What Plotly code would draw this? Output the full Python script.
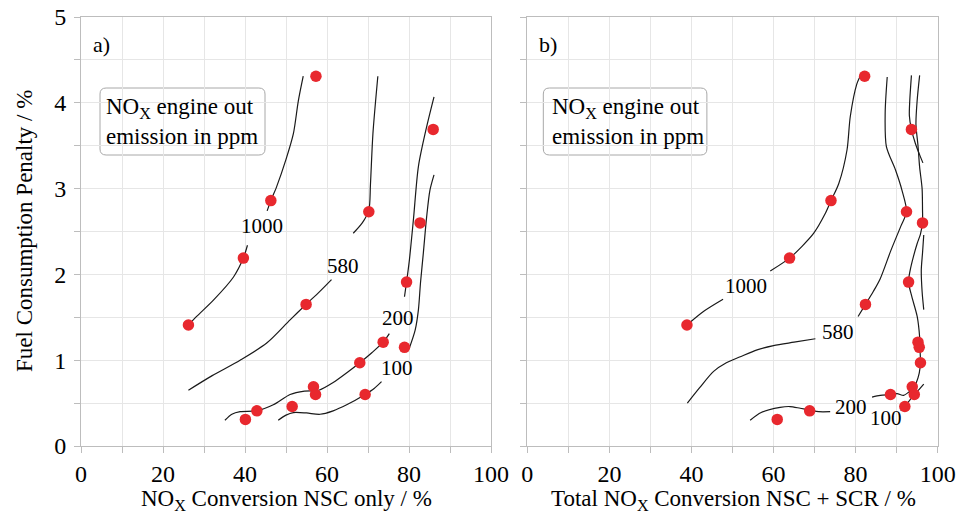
import plotly.graph_objects as go

# ---------------- data ----------------
penalty = [4.31, 3.69, 2.86, 2.73, 2.60, 2.19, 1.91, 1.65, 1.41, 1.21, 1.15, 0.97, 0.69, 0.60, 0.60, 0.46, 0.41, 0.31]
nsc_only = [57.3, 85.9, 46.3, 70.2, 82.7, 39.6, 79.4, 54.9, 26.2, 73.7, 78.9, 68.0, 56.7, 57.2, 69.3, 51.5, 42.9, 40.1]
nsc_scr = [82.2, 93.6, 74.0, 92.4, 96.3, 63.9, 92.9, 82.4, 38.9, 95.2, 95.5, 95.8, 93.8, 94.3, 88.5, 92.0, 68.8, 60.9]

# contour lines (NOx engine out ppm), panel a
a_1000_lo = [(26.2, 1.41), (28.2, 1.51), (32.3, 1.70), (37.2, 1.97), (39.6, 2.19), (40.6, 2.34)]
a_1000_hi = [(45.4, 2.74), (46.3, 2.86), (47.7, 3.02), (50.0, 3.34), (51.8, 3.64), (53.0, 4.02), (54.2, 4.31)]
a_580_lo = [(26.2, 0.65), (32.0, 0.82), (38.8, 1.00), (45.3, 1.20), (51.0, 1.47), (54.9, 1.65), (58.2, 1.80), (61.1, 1.94)]
a_580_hi = [(66.4, 2.48), (68.6, 2.60), (70.2, 2.75), (70.6, 3.05), (71.2, 3.64), (72.4, 4.31)]
a_200_lo = [(35.1, 0.30), (36.8, 0.37), (38.8, 0.40), (42.9, 0.41), (46.9, 0.48), (51.0, 0.60), (54.5, 0.64), (58.0, 0.65),
            (61.5, 0.74), (65.0, 0.86), (68.0, 0.97), (71.0, 1.09), (73.7, 1.21), (75.2, 1.31)]
a_200_hi = [(78.9, 1.74), (79.4, 1.91), (80.1, 2.17), (81.1, 2.65), (82.3, 3.26), (84.3, 3.72), (86.1, 4.07)]
a_100_lo = [(48.1, 0.30), (50.0, 0.36), (51.8, 0.39), (55.0, 0.385), (58.3, 0.37), (61.5, 0.41), (64.8, 0.48),
            (69.3, 0.60), (71.5, 0.67), (73.3, 0.75)]
a_100_hi = [(80.0, 1.13), (81.5, 1.35), (82.3, 1.59), (82.8, 1.90), (83.5, 2.25), (84.3, 2.67), (85.1, 2.98), (86.1, 3.16)]

# contour lines, panel b
b_1000_lo = [(38.9, 1.41), (43.0, 1.57), (47.7, 1.71)]
b_1000_hi = [(59.2, 2.04), (63.9, 2.19), (67.0, 2.33), (69.8, 2.48), (72.5, 2.70), (74.0, 2.86), (75.9, 3.06),
             (77.9, 3.45), (78.7, 3.84), (80.3, 4.22), (81.1, 4.31)]
b_580_lo = [(39.0, 0.50), (42.0, 0.68), (45.4, 0.87), (48.5, 0.97), (51.9, 1.04), (56.0, 1.12), (60.0, 1.17),
            (65.0, 1.21), (70.2, 1.25)]
b_580_hi = [(80.6, 1.51), (82.4, 1.65), (84.3, 1.80), (86.0, 1.95), (88.6, 2.28), (91.0, 2.56), (92.4, 2.73),
            (91.3, 2.98), (89.7, 3.22), (87.5, 3.49), (87.2, 3.88), (87.7, 4.30)]
b_200_lo = [(54.3, 0.30), (57.0, 0.39), (61.6, 0.45), (64.0, 0.46), (66.5, 0.44), (68.8, 0.42), (71.0, 0.40), (73.8, 0.40)]
b_200_hi = [(84.0, 0.57), (86.0, 0.59), (88.5, 0.60), (90.1, 0.61), (91.7, 0.59), (93.0, 0.63), (94.1, 0.67),
            (94.8, 0.74), (95.5, 0.85), (95.8, 0.97), (95.7, 1.12), (95.6, 1.27), (95.0, 1.51), (93.7, 1.74),
            (92.9, 1.91), (93.3, 2.05), (94.1, 2.21), (95.0, 2.36), (95.8, 2.47), (96.3, 2.61), (96.3, 2.75),
            (96.2, 3.00), (95.6, 3.25), (95.2, 3.50), (94.7, 3.75), (95.0, 4.03), (95.6, 4.32)]
b_100_lo = [(91.0, 0.41), (92.0, 0.46), (93.3, 0.54), (94.3, 0.60), (95.5, 0.66), (96.6, 0.72)]
b_100_mid = [(96.6, 1.59), (96.2, 1.80), (96.0, 2.05), (96.3, 2.25), (96.6, 2.46)]
b_100_hi = [(96.4, 3.30), (95.8, 3.37), (94.6, 3.52), (93.6, 3.69), (93.1, 3.85), (93.2, 4.03), (93.6, 4.32)]

a_labels = [("1000", 44.1, 2.56), ("580", 64.0, 2.10), ("200", 77.2, 1.49), ("100", 77.1, 0.91)]
b_labels = [("1000", 53.3, 1.87), ("580", 75.8, 1.33), ("200", 78.9, 0.46), ("100", 87.5, 0.33)]

x_ticks = [0, 10, 20, 30, 40, 50, 60, 70, 80, 90, 100]
x_ticktext = ["0", "", "20", "", "40", "", "60", "", "80", "", "100"]
y_ticks = [0, 0.5, 1, 1.5, 2, 2.5, 3, 3.5, 4, 4.5, 5]
y_ticktext = ["0", "", "1", "", "2", "", "3", "", "4", "", "5"]

# ---------------- figure ----------------
SERIF = "Liberation Serif, Times New Roman, serif"
RED = "#e8282e"
fig = go.Figure()


def add_line(seg, xa, ya):
    fig.add_trace(go.Scatter(x=[p[0] for p in seg], y=[p[1] for p in seg], mode="lines",
                             line=dict(color="#1a1a1a", width=1.2, shape="spline", smoothing=0.8),
                             xaxis=xa, yaxis=ya, hoverinfo="skip", showlegend=False))


for seg in [a_1000_lo, a_1000_hi, a_580_lo, a_580_hi, a_200_lo, a_200_hi, a_100_lo, a_100_hi]:
    add_line(seg, "x", "y")
for seg in [b_1000_lo, b_1000_hi, b_580_lo, b_580_hi, b_200_lo, b_200_hi, b_100_lo, b_100_mid, b_100_hi]:
    add_line(seg, "x2", "y2")

fig.add_trace(go.Scatter(x=nsc_only, y=penalty, mode="markers", xaxis="x", yaxis="y",
                         marker=dict(color=RED, size=11.5, line=dict(width=0)), showlegend=False))
fig.add_trace(go.Scatter(x=nsc_scr, y=penalty, mode="markers", xaxis="x2", yaxis="y2",
                         marker=dict(color=RED, size=11.5, line=dict(width=0)), showlegend=False))

W, H = 966, 514
xd1 = [81 / W, 491 / W]
xd2 = [527.3 / W, 937.7 / W]
yd = [68 / H, 497 / H]

axis_common = dict(showgrid=True, gridcolor="#e6e6e6", gridwidth=1, showline=True, linecolor="#bdbdbd",
                   linewidth=1, mirror=True, ticks="outside", ticklen=6, tickcolor="#bdbdbd",
                   zeroline=False, tickfont=dict(family=SERIF, size=24, color="black"), fixedrange=True,
                   automargin=False)

fig.update_layout(
    width=W, height=H, autosize=False,
    margin=dict(l=0, r=0, t=0, b=0, autoexpand=False),
    paper_bgcolor="white", plot_bgcolor="white",
    showlegend=False,
    xaxis=dict(domain=xd1, range=[0, 100], tickmode="array", tickvals=x_ticks, ticktext=x_ticktext,
               anchor="y", **axis_common),
    yaxis=dict(domain=yd, range=[0, 5], tickmode="array", tickvals=y_ticks, ticktext=y_ticktext,
               anchor="x", ticklabelstandoff=3, **axis_common),
    xaxis2=dict(domain=xd2, range=[0, 100], tickmode="array", tickvals=x_ticks, ticktext=x_ticktext,
                anchor="y2", **axis_common),
    yaxis2=dict(domain=yd, range=[0, 5], tickmode="array", tickvals=y_ticks, ticktext=y_ticktext,
                anchor="x2", showticklabels=False, **axis_common),
)

ann = []
for txt, x, y in a_labels:
    ann.append(dict(text=txt, x=x, y=y, xref="x", yref="y", showarrow=False, xanchor="center", yanchor="middle",
                    font=dict(family=SERIF, size=21, color="black")))
for txt, x, y in b_labels:
    ann.append(dict(text=txt, x=x, y=y, xref="x2", yref="y2", showarrow=False, xanchor="center", yanchor="middle",
                    font=dict(family=SERIF, size=21, color="black")))

# panel tags
ann.append(dict(text="a)", x=(91 - 81) / 410 * 100, y=(446 - 44) / 85.8, xref="x", yref="y", xanchor="left",
                yanchor="middle", showarrow=False, font=dict(family=SERIF, size=22, color="black")))
ann.append(dict(text="b)", x=(91 - 81) / 410 * 100, y=(446 - 44) / 85.8, xref="x2", yref="y2", xanchor="left",
                yanchor="middle", showarrow=False, font=dict(family=SERIF, size=22, color="black")))

# info boxes
box_txt = "NO<sub>X</sub> engine out<br>emission in ppm"
for xr, yr in [("x", "y"), ("x2", "y2")]:
    ann.append(dict(text=box_txt, x=(104 - 81) / 4.1, y=(446 - 121) / 85.8, xref=xr, yref=yr, xanchor="left",
                    yanchor="middle", align="left", showarrow=False,
                    font=dict(family=SERIF, size=23, color="black")))

# axis titles
ann.append(dict(text="NO<sub>X</sub> Conversion NSC only / %", x=286 / W, y=1 - 500 / H, xref="paper",
                yref="paper", showarrow=False, xanchor="center", yanchor="middle",
                font=dict(family=SERIF, size=23, color="black")))
ann.append(dict(text="Total NO<sub>X</sub> Conversion NSC + SCR / %", x=733 / W, y=1 - 500 / H, xref="paper",
                yref="paper", showarrow=False, xanchor="center", yanchor="middle",
                font=dict(family=SERIF, size=23, color="black")))
ann.append(dict(text="Fuel Consumption Penalty / %", x=25 / W, y=1 - 231 / H, xref="paper", yref="paper",
                showarrow=False, textangle=-90, xanchor="center", yanchor="middle",
                font=dict(family=SERIF, size=23, color="black")))
fig.update_layout(annotations=ann)


# rounded boxes
def rounded_path(x0, y0, x1, y1, rx, ry):
    return (f"M {x0 + rx},{y0} L {x1 - rx},{y0} Q {x1},{y0} {x1},{y0 - ry} "
            f"L {x1},{y1 + ry} Q {x1},{y1} {x1 - rx},{y1} L {x0 + rx},{y1} Q {x0},{y1} {x0},{y1 + ry} "
            f"L {x0},{y0 - ry} Q {x0},{y0} {x0 + rx},{y0} Z")


shapes = []
for xr, yr, px0, px1 in [("x", "y", 100, 265), ("x2", "y2", 543.3 - 527.3 + 81, 706.7 - 527.3 + 81)]:
    bx0 = (px0 - 81) / 4.1
    bx1 = (px1 - 81) / 4.1
    by0 = (446 - 88) / 85.8
    by1 = (446 - 155) / 85.8
    shapes.append(dict(type="path", path=rounded_path(bx0, by0, bx1, by1, 1.5, 0.07), xref=xr, yref=yr,
                       line=dict(color="#a8a8a8", width=1), fillcolor="white", layer="below"))
fig.update_layout(shapes=shapes)

fig.write_html("out.html")
